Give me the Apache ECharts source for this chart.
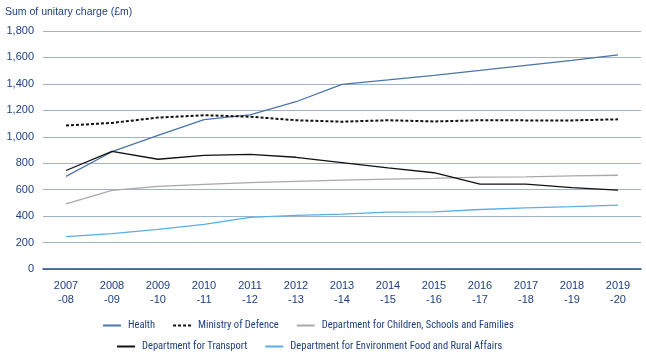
<!DOCTYPE html>
<html><head><meta charset="utf-8">
<script src="https://cdn.jsdelivr.net/npm/echarts@6/dist/echarts.min.js"></script>
<style>html,body{margin:0;padding:0;background:#fff}#c{width:646px;height:362px}</style>
</head><body><div id="c"></div>
<script>
const categories = ['2007\n-08','2008\n-09','2009\n-10','2010\n-11','2011\n-12','2012\n-13','2013\n-14','2014\n-15','2015\n-16','2016\n-17','2017\n-18','2018\n-19','2019\n-20'];
const health      = [700, 887, 1010, 1130, 1165, 1265, 1397, 1430, 1465, 1502, 1540, 1578, 1619];
const defence     = [1085, 1105, 1145, 1163, 1152, 1125, 1114, 1125, 1116, 1125, 1124, 1124, 1132];
const children    = [492, 595, 625, 640, 653, 662, 672, 680, 686, 695, 697, 705, 709];
const transport   = [745, 890, 830, 860, 867, 845, 805, 765, 728, 642, 642, 615, 597];
const environment = [245, 268, 300, 338, 390, 405, 415, 430, 432, 450, 462, 472, 483];
const yTicks = [0, 200, 400, 600, 800, 1000, 1200, 1400, 1600, 1800];

const txt = '#1d3f7e';
const font = 'Liberation Sans';
const legendFont = 'Roboto Condensed';
function s(name, data, color, type) {
  return {name, type:'line', data, symbol:'none', smooth:false,
    lineStyle:{color, width: type ? 2 : 1.3, type: type || 'solid'},
    itemStyle:{color}};
}
const legendBase = {itemWidth:18, itemHeight:8, itemGap:17, padding:0,
  itemStyle:{opacity:0},
  textStyle:{fontSize:10.5, color:txt, fontFamily:legendFont, padding:[0,0,0,2]}};
const chart = echarts.init(document.getElementById('c'));
chart.setOption({
  animation:false,
  textStyle:{fontFamily:font},
  title:{text:'Sum of unitary charge (£m)', left:0, top:2,
    textStyle:{fontSize:10.5, fontWeight:'normal', color:txt, fontFamily:font}},
  grid:{left:43, right:5, top:31, bottom:93},
  legend:[
    Object.assign({data:['Health','Ministry of Defence','Department for Children, Schools and Families'],
     top:320, left:102}, legendBase),
    Object.assign({data:['Department for Transport','Department for Environment Food and Rural Affairs'],
     top:341, left:116}, legendBase)
  ],
  xAxis:{type:'category', data:categories, boundaryGap:true,
    axisLine:{lineStyle:{color:'#1f4f8f', width:1.5}}, axisTick:{show:false},
    axisLabel:{color:txt, fontSize:11, lineHeight:14, margin:10, interval:0, fontFamily:font}},
  yAxis:{type:'value', min:0, max:1800, interval:200,
    axisLabel:{color:txt, fontSize:11, margin:9, fontFamily:font,
      formatter:v=>yTicks.includes(v)?v.toLocaleString('en-US'):''},
    splitLine:{lineStyle:{color:'#9db3cc', width:1}}, axisLine:{show:false}, axisTick:{show:false}},
  series:[
    s('Health', health, '#4a74ab'),
    s('Ministry of Defence', defence, '#111111', [3, 2]),
    s('Department for Children, Schools and Families', children, '#a9a9a9'),
    s('Department for Transport', transport, '#111111'),
    s('Department for Environment Food and Rural Affairs', environment, '#5aaeea')
  ]
});
</script></body></html>
